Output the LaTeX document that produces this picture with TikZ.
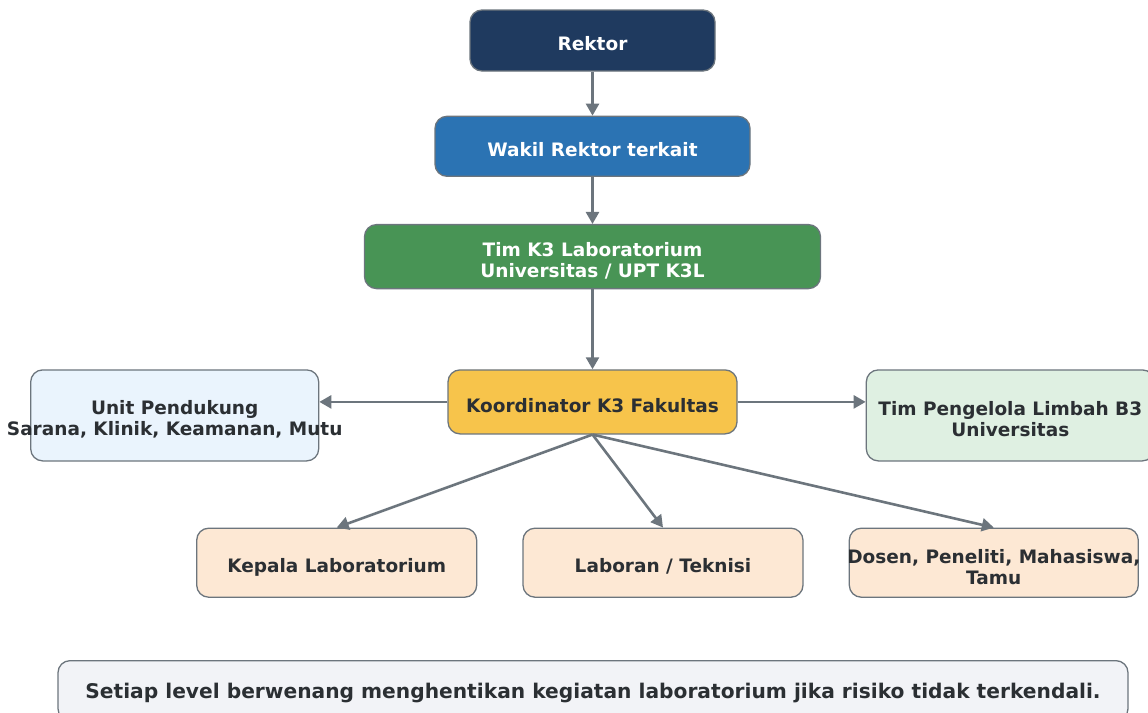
\documentclass[tikz,border=0pt]{standalone}
\usepackage{fontspec}
\setmainfont{DejaVu Sans}
\usepackage{tikz}
\usetikzlibrary{positioning, arrows.meta}
\definecolor{edgegray}{HTML}{6C757D}
\definecolor{inkdark}{HTML}{2B2F33}
\definecolor{rektorblue}{HTML}{1F3A5F}
\definecolor{wakilblue}{HTML}{2B73B3}
\definecolor{timgreen}{HTML}{489455}
\definecolor{koorgold}{HTML}{F7C44B}
\definecolor{unitblue}{HTML}{EAF4FD}
\definecolor{limbahgreen}{HTML}{DFF0E2}
\definecolor{staffpeach}{HTML}{FDE8D4}
\definecolor{notegray}{HTML}{F2F3F7}
\newcommand{\topgap}{\rule{0pt}{22pt}}
\tikzstyle{box} = [rectangle, rounded corners=12pt, draw=edgegray, line width=1.3pt, text=inkdark, font=\bfseries\fontsize{18.5}{21}\selectfont, align=center, inner sep=0pt]
\tikzstyle{oneline} = [text height=20.5pt, text depth=0pt]
\tikzstyle{link} = [line width=2.6pt, draw=edgegray, -{Triangle[length=12pt,width=13pt]}]
\begin{document}
\begin{tikzpicture}
	\useasboundingbox (0,0) rectangle (1148pt,-712pt);
	\node[box, oneline, fill=rektorblue, text=white, minimum width=245pt, minimum height=61pt] (rektor) at (592.5pt,-40.5pt) {Rektor};
	\node[box, oneline, fill=wakilblue, text=white, minimum width=315pt, minimum height=60pt] (wakil) [below=44pt of rektor] {Wakil Rektor terkait};
	\node[box, fill=timgreen, text=white, minimum width=456pt, minimum height=64pt] (timk3) [below=47pt of wakil] {\topgap Tim K3 Laboratorium\\Universitas / UPT K3L};
	\node[box, oneline, fill=koorgold, minimum width=289pt, minimum height=64pt] (koord) [below=80pt of timk3] {Koordinator K3 Fakultas};
	\node[box, fill=unitblue, minimum width=288pt, minimum height=91pt, anchor=north east] (unit) at ([xshift=-128pt]koord.north west) {\topgap Unit Pendukung\\\makebox[0pt]{Sarana, Klinik, Keamanan, Mutu}};
	\node[box, fill=limbahgreen, minimum width=288pt, minimum height=91pt, anchor=north west] (limbah) at ([xshift=128pt]koord.north east) {\topgap Tim Pengelola Limbah B3\\Universitas};
	\node[box, oneline, fill=staffpeach, minimum width=280pt, minimum height=69pt] (laboran) [below=93pt of koord, xshift=70.5pt] {Laboran / Teknisi};
	\node[box, oneline, fill=staffpeach, minimum width=280pt, minimum height=69pt] (kepala) [left=45pt of laboran] {Kepala Laboratorium};
	\node[box, fill=staffpeach, minimum width=289pt, minimum height=69pt] (dosen) [right=45pt of laboran] {\topgap\makebox[0pt]{Dosen, Peneliti, Mahasiswa,}\\Tamu};
	\node[box, fill=notegray, minimum width=1070pt, minimum height=60pt, anchor=north, text depth=0pt, font=\bfseries\fontsize{20.2}{22}\selectfont] (note) at (593pt,-660pt) {Setiap level berwenang menghentikan kegiatan laboratorium jika risiko tidak terkendali.};
	\draw[link] (rektor) -- (wakil);
	\draw[link] (wakil) -- (timk3);
	\draw[link] (timk3) -- (koord);
	\draw[link] (koord.west) -- (koord.west -| unit.east);
	\draw[link] (koord.east) -- (koord.east -| limbah.west);
	\draw[link] (koord.south) -- (kepala.north);
	\draw[link] (koord.south) -- (laboran.north);
	\draw[link] (koord.south) -- (dosen.north);
\end{tikzpicture}
\end{document}
